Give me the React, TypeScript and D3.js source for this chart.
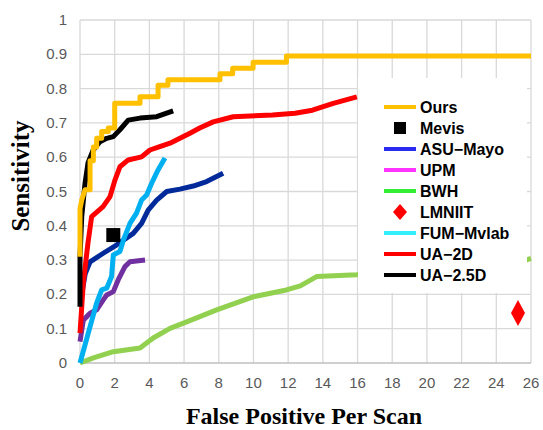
import * as d3 from "d3";

// x: false positives per scan, y: sensitivity
const oursX = [0, 0, 0.1, 0.29, 0.58, 0.58, 0.77, 0.77, 0.96, 0.96, 1.25, 1.25, 1.63, 1.63, 2.0, 2.0, 3.46, 3.46, 4.5, 4.5, 5.07, 5.07, 8.07, 8.07, 8.8, 8.8, 9.98, 9.98, 11.9, 11.9, 26];
const oursY = [0.31, 0.45, 0.475, 0.505, 0.505, 0.59, 0.59, 0.63, 0.63, 0.655, 0.655, 0.675, 0.675, 0.685, 0.685, 0.757, 0.757, 0.776, 0.776, 0.81, 0.81, 0.826, 0.826, 0.843, 0.843, 0.859, 0.859, 0.877, 0.877, 0.895, 0.895];

const ua25X = [0, 0, 0.1, 0.29, 0.46, 0.75, 1.15, 1.54, 1.92, 2.3, 2.78, 3.46, 4.42, 5.37];
const ua25Y = [0.164, 0.31, 0.427, 0.524, 0.583, 0.62, 0.645, 0.655, 0.66, 0.68, 0.708, 0.714, 0.718, 0.735];

const ua2dX = [0, 0.19, 0.46, 0.67, 1.33, 1.73, 2.02, 2.3, 2.78, 3.55, 4.03, 4.6, 5.19, 5.76, 6.34, 6.9, 7.68, 8.83, 11.1, 12.4, 13.4, 14.6, 15.96];
const ua2dY = [0.087, 0.233, 0.35, 0.427, 0.456, 0.485, 0.534, 0.572, 0.592, 0.601, 0.621, 0.631, 0.641, 0.655, 0.67, 0.685, 0.703, 0.718, 0.723, 0.728, 0.737, 0.757, 0.776];

const fumX = [0, 0.58, 0.96, 1.25, 1.54, 1.82, 1.92, 2.3, 2.5, 2.88, 3.26, 3.55, 3.84, 4.13, 4.5, 4.9];
const fumY = [0, 0.106, 0.175, 0.213, 0.218, 0.252, 0.315, 0.325, 0.358, 0.407, 0.437, 0.475, 0.49, 0.524, 0.563, 0.598];

const asuX = [0.1, 0.3, 0.58, 1.34, 2.1, 3.07, 3.55, 3.93, 4.42, 5.0, 5.76, 6.53, 7.3, 8.25];
const asuY = [0.2, 0.26, 0.295, 0.32, 0.344, 0.378, 0.407, 0.446, 0.475, 0.5, 0.507, 0.516, 0.529, 0.553];

const upmX = [0, 0.19, 0.58, 0.96, 1.34, 1.54, 1.92, 2.2, 2.59, 2.88, 3.75];
const upmY = [0.062, 0.125, 0.145, 0.155, 0.184, 0.198, 0.208, 0.242, 0.281, 0.295, 0.3];

const bwhX = [0, 0.77, 1.92, 3.46, 4.22, 5.19, 6.15, 7.88, 9.98, 11.9, 12.7, 13.64, 15.95, 25.7, 26];
const bwhY = [0, 0.015, 0.033, 0.044, 0.073, 0.101, 0.12, 0.155, 0.193, 0.213, 0.225, 0.252, 0.257, 0.3, 0.305];

const mevisPoint = [1.92, 0.373];
const lmniitPoint = [25.25, 0.146];

const xTicks = [0, 2, 4, 6, 8, 10, 12, 14, 16, 18, 20, 22, 24, 26];
const yTicks = [0, 0.1, 0.2, 0.3, 0.4, 0.5, 0.6, 0.7, 0.8, 0.9, 1];

const legendNames = ["Ours", "Mevis", "ASU\u2212Mayo", "UPM", "BWH", "LMNIIT", "FUM\u2212Mvlab", "UA\u22122D", "UA\u22122.5D"];
const legendColors = ["#FFC000", "#000000", "#2A2AF0", "#FF33FF", "#33EE33", "#FF0000", "#33EEFF", "#FF0000", "#000000"];
const legendKinds = ["line", "square", "line", "line", "line", "diamond", "line", "line", "line"];

const series = [
  { x: bwhX, y: bwhY, color: "#92D050" },
  { x: upmX, y: upmY, color: "#7030A0" },
  { x: asuX, y: asuY, color: "#002A9A" },
  { x: fumX, y: fumY, color: "#00B0F0" },
  { x: ua2dX, y: ua2dY, color: "#FF0000" },
  { x: ua25X, y: ua25Y, color: "#000000" },
  { x: oursX, y: oursY, color: "#FFC000" },
];

export default function App() {
  const width = 543, height = 430;
  const x = d3.scaleLinear().domain([0, 26]).range([80, 531]);
  const y = d3.scaleLinear().domain([0, 1]).range([363, 20]);
  const line = d3.line<number[]>().x(d => x(d[0])).y(d => y(d[1])).curve(d3.curveLinear);

  return (
    <svg width={width} height={height} style={{ position: "absolute", left: 0, top: 0, background: "#fff" }}>
      {/* grid */}
      {xTicks.map(t => (
        <line key={"gx" + t} x1={x(t)} x2={x(t)} y1={y(1)} y2={y(0)} stroke="#D9D9D9" strokeWidth={1.3} />
      ))}
      {yTicks.map(t => (
        <line key={"gy" + t} x1={x(0)} x2={x(26)} y1={y(t)} y2={y(t)} stroke={t === 0 ? "#BFBFBF" : "#D9D9D9"} strokeWidth={1.3} />
      ))}

      {/* tick labels */}
      {yTicks.map(t => (
        <text key={"ty" + t} x={67} y={y(t) + 5} textAnchor="end" fontFamily="Liberation Sans, Arial, sans-serif" fontSize={15} fill="#595959">
          {d3.format("~g")(t)}
        </text>
      ))}
      {xTicks.map(t => (
        <text key={"tx" + t} x={x(t)} y={388} textAnchor="middle" fontFamily="Liberation Sans, Arial, sans-serif" fontSize={15} fill="#595959">
          {t}
        </text>
      ))}

      {/* curves */}
      {series.map((s, i) => (
        <path key={"s" + i} d={line(s.x.map((v, j) => [v, s.y[j]])) || ""} fill="none" stroke={s.color} strokeWidth={5} strokeLinejoin="round" />
      ))}

      {/* Mevis */}
      <rect x={x(mevisPoint[0]) - 7} y={y(mevisPoint[1]) - 7} width={14} height={14} fill="#000" />

      {/* legend box */}
      <rect x={358} y={78} width={169} height={215} fill="#fff" />
      {legendNames.map((name, i) => {
        const cy = 107 + i * 21;
        const kind = legendKinds[i];
        return (
          <g key={name}>
            {kind === "line" && <line x1={384} x2={416} y1={cy} y2={cy} stroke={legendColors[i]} strokeWidth={4} />}
            {kind === "square" && <rect x={394} y={cy - 6} width={12} height={12} fill={legendColors[i]} />}
            {kind === "diamond" && <path d={`M400,${cy - 8}L407,${cy}L400,${cy + 8}L393,${cy}Z`} fill={legendColors[i]} />}
            <text x={420} y={cy + 6} fontFamily="Liberation Sans, Arial, sans-serif" fontWeight="bold" fontSize={16} fill="#000">
              {name}
            </text>
          </g>
        );
      })}

      {/* LMNIIT */}
      <path d={`M${x(lmniitPoint[0])},${y(lmniitPoint[1]) - 13}L${x(lmniitPoint[0]) + 7},${y(lmniitPoint[1])}L${x(lmniitPoint[0])},${y(lmniitPoint[1]) + 13}L${x(lmniitPoint[0]) - 7},${y(lmniitPoint[1])}Z`} fill="#FF0000" />

      {/* axis titles */}
      <text transform="translate(29,176) rotate(-90)" textAnchor="middle" fontFamily="Liberation Serif, Times New Roman, serif" fontWeight="bold" fontSize={25} fill="#000">
        Sensitivity
      </text>
      <text x={304} y={424} textAnchor="middle" fontFamily="Liberation Serif, Times New Roman, serif" fontWeight="bold" fontSize={24} fill="#000">
        False Positive Per Scan
      </text>
    </svg>
  );
}
